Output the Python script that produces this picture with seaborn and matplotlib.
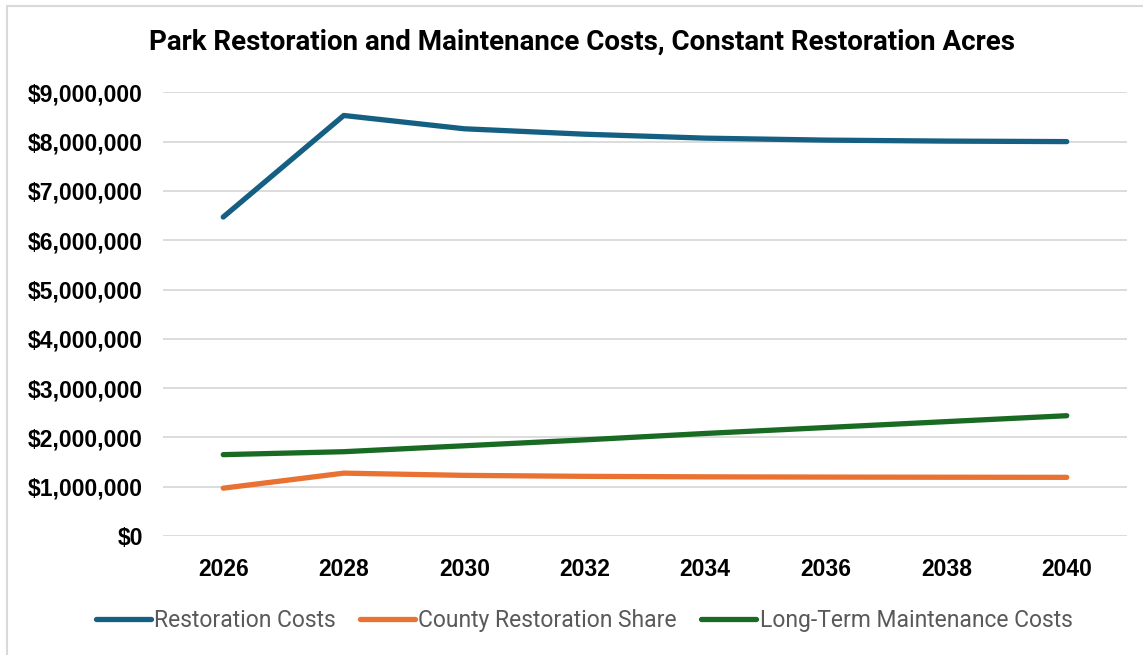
import matplotlib
matplotlib.use("Agg")
import matplotlib.pyplot as plt
from matplotlib.patches import Rectangle
from matplotlib.ticker import FuncFormatter
import pandas as pd
import seaborn as sns

# Projected costs by year (USD)
years = ["2026", "2028", "2030", "2032", "2034", "2036", "2038", "2040"]
restoration_costs = [6470000, 8530000, 8260000, 8150000, 8070000, 8030000, 8010000, 8000000]
county_share = [970000, 1275000, 1230000, 1210000, 1200000, 1195000, 1192000, 1190000]
maintenance_costs = [1650000, 1710000, 1830000, 1950000, 2080000, 2200000, 2320000, 2440000]

series_names = ["Restoration Costs", "County Restoration Share", "Long-Term Maintenance Costs"]
series_colors = ["#156082", "#E97132", "#196B24"]

df = pd.concat([
    pd.DataFrame({"Year": years, "Cost": vals, "Series": name})
    for name, vals in zip(series_names, [restoration_costs, county_share, maintenance_costs])
], ignore_index=True)

sns.set_theme(style="white")
plt.rcParams["font.family"] = ["Liberation Sans", "DejaVu Sans"]

fig = plt.figure(figsize=(11.43, 6.55), dpi=100)
fig.patch.set_facecolor("white")
ax = fig.add_axes([163 / 1143, 1 - 536 / 655, (1127 - 163) / 1143, (536 - 92.3) / 655])

sns.lineplot(data=df, x="Year", y="Cost", hue="Series", hue_order=series_names,
             palette=series_colors, linewidth=3.8, sort=False, ax=ax,
             solid_capstyle="round", solid_joinstyle="round")

ax.set_xlim(-0.5, len(years) - 0.5)
ax.set_ylim(0, 9000000)
ax.set_yticks(range(0, 9000001, 1000000))
ax.yaxis.set_major_formatter(FuncFormatter(lambda v, _: f"${v:,.0f}"))
ax.grid(axis="y", color="#D9D9D9", linewidth=1.3)
ax.set_axisbelow(True)
for s in ax.spines.values():
    s.set_visible(False)
ax.set_xlabel("")
ax.set_ylabel("")
ax.tick_params(axis="both", length=0, labelsize=16.5, colors="black")
ax.tick_params(axis="y", pad=14.5)
ax.tick_params(axis="x", pad=15.5)
for lab in ax.get_xticklabels() + ax.get_yticklabels():
    lab.set_fontweight("bold")

fig.text(0.509, 0.935, "Park Restoration and Maintenance Costs, Constant Restoration Acres",
         ha="center", va="center", fontsize=20, fontweight="bold",
         family=["Roboto", "DejaVu Sans"], color="black")

handles, labels = ax.get_legend_handles_labels()
ax.legend_.remove()
for h in handles:
    h.set_linewidth(3.8)
    h.set_solid_capstyle("round")
leg = fig.legend(handles, labels, loc="center", bbox_to_anchor=(0.511, 0.052), ncol=3,
                 frameon=False, handlelength=2.4, handletextpad=0.15, columnspacing=1.05,
                 prop={"family": ["Roboto", "DejaVu Sans"], "size": 16.5})
for t in leg.get_texts():
    t.set_color("#595959")

# chart border
fig.patches.append(Rectangle((6.5 / 1143, -0.1), 1.2, 1 - 5.5 / 655 + 0.1,
                             transform=fig.transFigure, fill=False,
                             edgecolor="#D9D9D9", linewidth=1.5, zorder=0))

fig.savefig("out.png", dpi=100, facecolor="white")
